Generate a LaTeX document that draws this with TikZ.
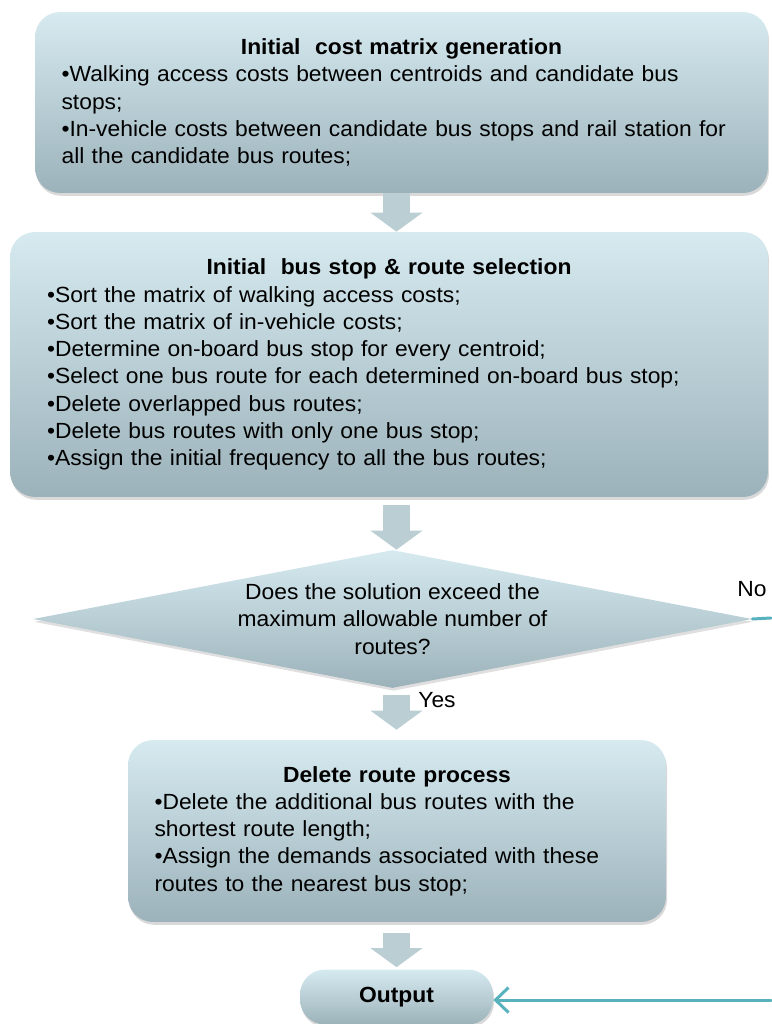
\documentclass[tikz,border=0pt]{standalone}
\usepackage{fontspec}
\setmainfont{Liberation Sans}[FakeStretch=1.04]
\usetikzlibrary{shapes.geometric,arrows.meta,shadows}
\definecolor{boxtop}{RGB}{214,234,240}
\definecolor{boxbot}{RGB}{156,178,186}
\definecolor{fatcol}{RGB}{186,206,212}
\definecolor{linkcol}{RGB}{88,178,190}

\begin{document}
\begin{tikzpicture}[line cap=round,line join=round,x=0.02cm,y=-0.02cm,
		txt/.style={font=\fontsize{12.5}{15.5}\selectfont},
		stepbox/.style={txt,rounded corners=0.5cm,top color=boxtop,bottom color=boxbot,
			drop shadow={opacity=0.3,shadow xshift=0.6pt,shadow yshift=-1.6pt},align=left,inner sep=0pt},
		decision/.style={txt,diamond,aspect=5.2,top color=boxtop,bottom color=boxbot,
			drop shadow={opacity=0.25,shadow xshift=0.6pt,shadow yshift=-1.6pt},align=center,inner sep=0pt},
		fatarrow/.style={line cap=butt,line width=0.54cm,color=fatcol,-{Triangle[width=1.04cm,length=0.38cm,line width=0pt]}},
		link/.style={line width=0.06cm,color=linkcol}]
	\useasboundingbox (0,0) rectangle (771,1024);
	% boxes
	\node[stepbox,minimum width=14.66cm,minimum height=3.62cm,text width=13.6cm] (costbox) at (401.5,102.5) {%
		{\centering\bfseries Initial\ \ cost matrix generation\par}
		•Walking access costs between centroids and candidate bus\\
		stops;\\
		•In-vehicle costs between candidate bus stops and rail station for\\
		all the candidate bus routes;};
	\node[stepbox,minimum width=15.16cm,minimum height=5.3cm,text width=13.68cm] (selbox) at (389,364.5) {%
		{\centering\bfseries Initial\ \ bus stop \& route selection\par}
		•Sort the matrix of walking access costs;\\
		•Sort the matrix of in-vehicle costs;\\
		•Determine on-board bus stop for every centroid;\\
		•Select one bus route for each determined on-board bus stop;\\
		•Delete overlapped bus routes;\\
		•Delete bus routes with only one bus stop;\\
		•Assign the initial frequency to all the bus routes;};
	\node[decision,minimum width=14.38cm,minimum height=2.76cm] (decide) at (392.5,619) {%
		Does the solution exceed the\\ maximum allowable number of\\ routes?};
	\node[stepbox,minimum width=10.76cm,minimum height=3.64cm,text width=9.7cm] (delbox) at (397,831) {%
		{\centering\bfseries Delete route process\par}
		•Delete the additional bus routes with the\\
		shortest route length;\\
		•Assign the demands associated with these\\
		routes to the nearest bus stop;};
	\node[stepbox,minimum width=3.86cm,minimum height=1.1cm,font=\fontsize{12.5}{15.5}\selectfont\bfseries,align=center] (outbox) at (396.5,997) {Output};
	% connectors
	\draw[fatarrow] (costbox.south -| outbox) -- (selbox.north -| outbox);
	\draw[fatarrow] ([yshift=-0.16cm]selbox.south -| outbox) -- (decide.north -| outbox);
	\draw[fatarrow] ([yshift=-0.14cm]decide.south -| outbox) -- ([yshift=0.2cm]delbox.north -| outbox);
	\draw[fatarrow] ([yshift=-0.22cm]delbox.south -| outbox) -- ([yshift=0.04cm]outbox.north);
	\coordinate (noend) at (771,618);
	\coordinate (outin) at (771,1000);
	\draw[link] (decide.east) -- (noend);
	\draw[link,-{Straight Barb[length=0.26cm,width=0.5cm]}] (outin) -- (outin -| outbox.east);
	\node[txt] (nolab) at (752,589) {No};
	\node[txt] (yeslab) at (437,700) {Yes};
\end{tikzpicture}
\end{document}
